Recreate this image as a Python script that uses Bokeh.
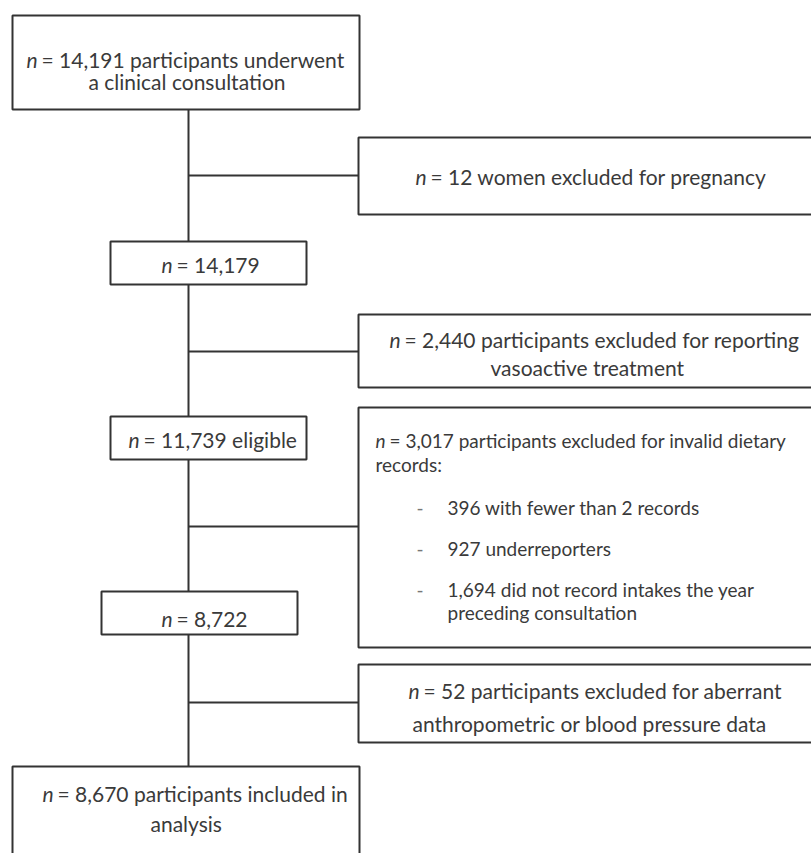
from bokeh.plotting import figure
from bokeh.models import Range1d
from bokeh.core.properties import value
from bokeh.embed import file_html
from bokeh.resources import INLINE

# ---------------- data (texts / counts) ----------------
main_counts = ["14,191", "14,179", "11,739", "8,722", "8,670"]
main_labels = [["participants underwent", "a clinical consultation"],
               [""],
               ["eligible"],
               [""],
               ["participants included in", "analysis"]]
excl_counts = ["12", "2,440", "3,017", "52"]
excl_labels = [["women excluded for pregnancy"],
               ["participants excluded for reporting", "vasoactive treatment"],
               ["participants excluded for invalid dietary", "records:"],
               ["participants excluded for aberrant", "anthropometric or blood pressure data"]]
sub_counts = ["396", "927", "1,694"]
sub_labels = [["with fewer than 2 records"],
              ["underreporters"],
              ["did not record intakes  the year", "preceding consultation"]]

# ---------------- layout (pixel positions) ----------------
W, H = 811, 853
SPINE_X = 188
MAIN_BOX = [(12, 359, 15, 109), (110, 306, 241, 284), (110, 306, 416, 459),
            (101, 297, 591, 634), (12, 359, 766, 900)]
SIDE_BOX = [(358, 840, 137, 214), (358, 840, 314, 387), (358, 840, 407, 647),
            (358, 840, 664, 742)]
BRANCH_Y = [175, 351, 526, 702]
MAIN_TEXT_POS = [[(26, 59), (88, 81)], [(161, 264)], [(128, 439)], [(161, 618)],
                 [(42, 793), (150, 823)]]
SIDE_TEXT_POS = [[(415, 176)], [(389, 339), (490, 367)], [(375, 440), (375, 464)],
                 [(408, 690), (412, 723)]]
SIDE_FSIZE = [21, 21, 19, 21]
SUB_DASH_X, SUB_TEXT_X = 416, 447
SUB_Y = [[507], [548], [589, 612]]
SUB_FSIZE = 19
BASE_FSIZE = 21
FONT = "Lato"
TCOL = "#3a3a3a"
LCOL = "#333333"

p = figure(width=W, height=H, output_backend="svg", toolbar_location=None,
           x_range=Range1d(0, W), y_range=Range1d(H, 0),
           min_border=0, outline_line_color=None)
p.axis.visible = False
p.grid.visible = False
p.background_fill_color = "white"
p.border_fill_color = "white"

# connectors
p.segment(x0=[SPINE_X], y0=[MAIN_BOX[0][3]], x1=[SPINE_X], y1=[MAIN_BOX[-1][2]],
          line_color=LCOL, line_width=2)
p.segment(x0=[SPINE_X] * len(BRANCH_Y), y0=BRANCH_Y,
          x1=[b[0] for b in SIDE_BOX], y1=BRANCH_Y, line_color=LCOL, line_width=2)

# boxes
boxes = MAIN_BOX + SIDE_BOX
p.quad(left=[b[0] for b in boxes], right=[b[1] for b in boxes],
       top=[b[2] for b in boxes], bottom=[b[3] for b in boxes],
       fill_color="white", line_color=LCOL, line_width=2)

# texts
nx, ny, ns = [], [], []
rx, ry, rt, rs = [], [], [], []

def add_block(count, labels, positions, fs):
    for i, (lbl, (x, y)) in enumerate(zip(labels, positions)):
        if i == 0:
            nx.append(x); ny.append(y); ns.append(f"{fs}px")
            rx.append(x + round(fs * 0.72)); ry.append(y)
            rt.append(("= " + count + " " + lbl).rstrip())
        else:
            rx.append(x); ry.append(y); rt.append(lbl)
        rs.append(f"{fs}px")

for c, l, pos in zip(main_counts, main_labels, MAIN_TEXT_POS):
    add_block(c, l, pos, BASE_FSIZE)
for c, l, pos, fs in zip(excl_counts, excl_labels, SIDE_TEXT_POS, SIDE_FSIZE):
    add_block(c, l, pos, fs)

dx, dy = [], []
for c, l, ys in zip(sub_counts, sub_labels, SUB_Y):
    dx.append(SUB_DASH_X); dy.append(ys[0])
    for i, (lbl, y) in enumerate(zip(l, ys)):
        rx.append(SUB_TEXT_X); ry.append(y); rs.append(f"{SUB_FSIZE}px")
        rt.append((c + " " + lbl) if i == 0 else lbl)

p.text(x=nx, y=ny, text=["n"] * len(nx), text_font=value(FONT),
       text_font_size=ns, text_font_style="italic", text_color=TCOL,
       text_align="left", text_baseline="middle")
p.text(x=rx, y=ry, text=rt, text_font=value(FONT), text_font_size=rs,
       text_color=TCOL, text_align="left", text_baseline="middle")
p.text(x=dx, y=dy, text=["-"] * len(dx), text_font=value(FONT),
       text_font_size=f"{SUB_FSIZE}px", text_color="#777777",
       text_align="left", text_baseline="middle")

open("out.html", "w").write(file_html(p, INLINE))
